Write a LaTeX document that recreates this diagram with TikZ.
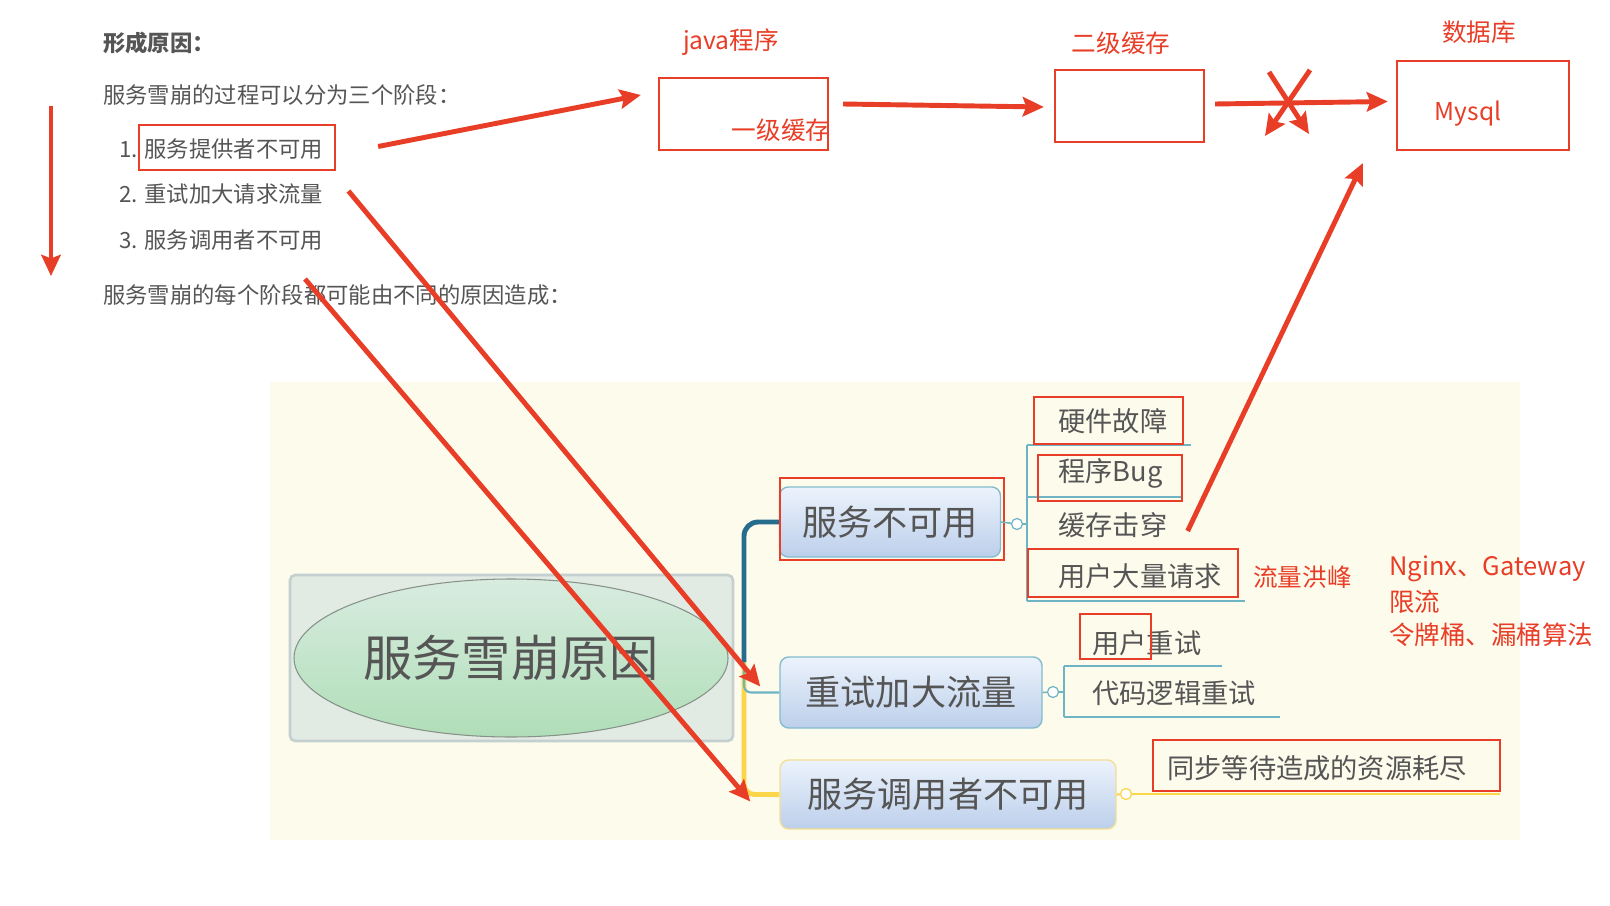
\documentclass[tikz,border=0pt]{standalone}
\usepackage{fontspec}
\setmainfont{Noto Sans CJK SC}
\usetikzlibrary{shapes,arrows.meta,positioning,calc}
\definecolor{MarkRed}{RGB}{232, 61, 38}
\definecolor{TextGray}{RGB}{85, 85, 85}
\definecolor{MapPaper}{RGB}{253, 251, 236}
\definecolor{FrameFill}{RGB}{226, 234, 228}
\definecolor{FrameLine}{RGB}{196, 208, 208}
\definecolor{RootTop}{RGB}{216, 236, 224}
\definecolor{RootBottom}{RGB}{176, 222, 184}
\definecolor{RootLine}{RGB}{135, 145, 135}
\definecolor{TopicTop}{RGB}{236, 243, 252}
\definecolor{TopicBottom}{RGB}{188, 207, 235}
\definecolor{TopicLine}{RGB}{132, 188, 206}
\definecolor{TopicSun}{RGB}{242, 222, 150}
\definecolor{DeepTeal}{RGB}{38, 108, 140}
\definecolor{LightTeal}{RGB}{110, 180, 196}
\definecolor{SunYellow}{RGB}{250, 214, 72}
\newcommand{\pxu}{0.02cm}
\newcommand{\sizept}[1]{\fontsize{#1}{#1}\selectfont}

\begin{document}
\begin{tikzpicture}[x=0.02cm, y=-0.02cm,
  plain/.style={inner sep=0pt, text=TextGray},
  redlabel/.style={inner sep=0pt, text=MarkRed, font=\sizept{14}},
  redbox/.style={draw=MarkRed, line width=1.3pt, inner sep=0pt},
  redarrow/.style={draw=MarkRed, line width=2.8pt, -{Stealth[length=12pt,width=11pt,inset=2pt]}},
  topic/.style={draw=TopicLine, line width=0.8pt, rounded corners=5pt,
    top color=TopicTop, bottom color=TopicBottom, text=TextGray, font=\sizept{20}, inner sep=0pt},
  leaf/.style={anchor=west, inner sep=0pt, text=TextGray, font=\sizept{15.5}},
  subline/.style={draw=LightTeal, line width=0.9pt},
  knob/.style={circle, draw=#1, fill=white, line width=0.7pt, minimum size=11*\pxu, inner sep=0pt}]
  \useasboundingbox (0,0) rectangle (1610,906);
  \fill[white] (0,0) rectangle (1610,906);

  % Article text
  \node[plain, anchor=west, font=\sizept{12.7}\bfseries] (title) at (103,43) {形成原因：};
  \node[plain, anchor=west, font=\sizept{12.7}] (intro) at (103,95) {服务雪崩的过程可以分为三个阶段：};
  \node[plain, anchor=west, font=\sizept{12.7}] (item1) at (119,149) {1. 服务提供者不可用};
  \node[plain, anchor=west, font=\sizept{12.7}] (item2) at (119,194) {2. 重试加大请求流量};
  \node[plain, anchor=west, font=\sizept{12.7}] (item3) at (119,240) {3. 服务调用者不可用};
  \node[plain, anchor=west, font=\sizept{12.7}] (outro) at (103,295) {服务雪崩的每个阶段都可能由不同的原因造成：};
  \node[redbox, minimum width=196*\pxu, minimum height=45*\pxu] (hl1) at (237,147.5) {};
  \coordinate (flowtop) at (51,106);
  \coordinate (flowbot) at (51,276);
  \draw[redarrow] (flowtop) -- (flowbot);

  % Cache chain
  \node[redlabel] (javalbl) at (731,42) {java程序};
  \node[redbox, minimum width=169*\pxu, minimum height=72*\pxu] (javabox) at (743.5,114) {};
  \node[redlabel] (l1cache) at (781,130) {一级缓存};
  \node[redlabel] (l2lbl) at (1121,43) {二级缓存};
  \node[redbox, minimum width=149*\pxu, minimum height=72*\pxu] (cache2) at (1129.5,106) {};
  \node[redlabel] (dblbl) at (1479,32) {数据库};
  \node[redbox, minimum width=172*\pxu, minimum height=89*\pxu] (mysql) at (1483,105.5) {};
  \node[redlabel] (mysqltxt) at (1468,114) {Mysql};

  % Mind map
  \fill[MapPaper] (270,382) rectangle (1520,840);
  \node[draw=FrameLine, line width=1.5pt, fill=FrameFill, rounded corners=3pt,
    minimum width=443*\pxu, minimum height=166*\pxu] (frame) at (511.5,658) {};
  \node[ellipse, draw=RootLine, line width=0.6pt, top color=RootTop, bottom color=RootBottom,
    minimum width=434*\pxu, minimum height=158*\pxu, text=TextGray, font=\sizept{28}] (root) at (511,658) {服务雪崩原因};

  \coordinate (hub) at (744,662);
  \node[topic, minimum width=221*\pxu, minimum height=70*\pxu] (b1) at (890,522) {服务不可用};
  \node[topic, minimum width=262*\pxu, minimum height=71*\pxu] (b2) at (911,692.5) {重试加大流量};
  \node[topic, draw=TopicSun, minimum width=336*\pxu, minimum height=69*\pxu] (b3) at (948,794.5) {服务调用者不可用};
  \draw[SunYellow, line width=2.8pt, rounded corners=6pt] (hub) |- (b3.west);
  \draw[DeepTeal, line width=2.8pt, rounded corners=8pt] (hub) |- (b1.west);
  \draw[LightTeal, line width=1.2pt, rounded corners=4pt] (hub) |- (b2.west);
  \node[redbox, minimum width=224*\pxu, minimum height=82*\pxu] (hlb1) at (892,519) {};

  % first topic leaves
  \node[knob=LightTeal] (kb1) at (1017,524) {};
  \coordinate (u1) at (1027,445);
  \coordinate (u2) at (1027,497);
  \coordinate (u3) at (1027,549);
  \coordinate (u4) at (1027,601);
  \draw[subline] (b1.east) -- (kb1);
  \draw[subline] (kb1) -- (kb1 -| u1);
  \draw[subline] (u1) -- (u4);
  \draw[subline] (u1) -- ++(164,0);
  \draw[subline] (u2) -- ++(154,0);
  \draw[subline] (u3) -- ++(140,0);
  \draw[subline] (u4) -- ++(218,0);
  \node[leaf] (c1) at (1058,421) {硬件故障};
  \node[leaf] (c2) at (1058,473) {程序Bug};
  \node[leaf] (c3) at (1058,525) {缓存击穿};
  \node[leaf] (c4) at (1058,576) {用户大量请求};
  \node[redbox, minimum width=149*\pxu, minimum height=47*\pxu] (hlc1) at (1108.5,420.5) {};
  \node[redbox, minimum width=144*\pxu, minimum height=46*\pxu] (hlc2) at (1110,478) {};
  \node[redbox, minimum width=210*\pxu, minimum height=48*\pxu] (hlc4) at (1133,573) {};
  \node[redlabel, anchor=west] (flood) at (1253,577) {流量洪峰};
  \node[redlabel, anchor=west, font=\sizept{14.5}] (lim1) at (1389,569) {Nginx、Gateway};
  \node[redlabel, anchor=west, font=\sizept{14.5}] (lim2) at (1389,602) {限流};
  \node[redlabel, anchor=west, font=\sizept{14.5}] (lim3) at (1389,635) {令牌桶、漏桶算法};

  % second topic leaves
  \node[knob=LightTeal] (kb2) at (1053,692) {};
  \coordinate (v1) at (1064,666);
  \coordinate (v2) at (1064,717);
  \draw[subline] (b2.east) -- (kb2);
  \draw[subline] (kb2) -- (kb2 -| v1);
  \draw[subline] (v1) -- (v2);
  \draw[subline] (v1) -- ++(158,0);
  \draw[subline] (v2) -- ++(216,0);
  \node[leaf] (d1) at (1092,643) {用户重试};
  \node[leaf] (d2) at (1092,693) {代码逻辑重试};
  \node[redbox, minimum width=71*\pxu, minimum height=45*\pxu] (hld1) at (1115.5,636.5) {};

  % third topic leaf
  \node[knob=SunYellow] (kb3) at (1126,794) {};
  \coordinate (w1) at (1500,794);
  \draw[SunYellow, line width=1.2pt] (b3.east) -- (kb3);
  \draw[SunYellow, line width=1.2pt] (kb3) -- (w1);
  \node[leaf] (e1) at (1167,768) {同步等待造成的资源耗尽};
  \node[redbox, minimum width=347*\pxu, minimum height=51*\pxu] (hle1) at (1326.5,765.5) {};

  % Red marks
  \draw[redarrow] ($(hl1.east)+(42,-1)$) -- ($(javabox.west)+(-17,-19)$);
  \draw[redarrow] ($(javabox.east)+(14,-10)$) -- ($(cache2.west)+(-10,1)$);
  \draw[redarrow] ($(cache2.east)+(10,-2)$) -- ($(mysql.west)+(-8,-4)$);
  \coordinate (cut) at (1288,103);
  \draw[redarrow] ($(cut)+(-19,-31)$) -- ($(cut)+(21,31)$);
  \draw[redarrow] ($(cut)+(22,-33)$) -- ($(cut)+(-23,33)$);
  \draw[redarrow] ($(c3.east)+(20,6)$) -- ($(mysql.south west)+(-33,12)$);
  \draw[redarrow] ($(item2.east)+(25,-3)$) -- ($(b2.west)+(-19,-6)$);
  \draw[redarrow] ($(outro.west)+(202,-16)$) -- ($(b3.west)+(-29,7)$);
\end{tikzpicture}
\end{document}
